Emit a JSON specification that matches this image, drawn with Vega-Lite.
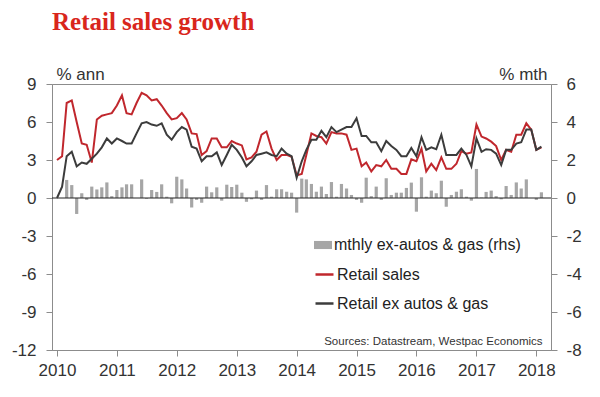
{
"$schema": "https://vega.github.io/schema/vega-lite/v6.json",
"width": 499, "height": 266,
"autosize": "none",
"padding": {"left": 52, "top": 84, "right": 49, "bottom": 47},
"background": "white",
"title": {"text": "Retail sales growth", "anchor": "start", "frame": "group", "font": "Liberation Serif", "fontSize": 25, "fontWeight": "bold", "color": "#d9261c", "offset": 30},
"config": {
  "view": {"stroke": "#8c8c8c", "strokeWidth": 1},
  "axis": {"domainColor": "#8c8c8c", "tickColor": "#8c8c8c", "labelFont": "Liberation Sans", "labelColor": "#333333", "labelFontSize": 17, "titleFont": "Liberation Sans", "titleFontSize": 17, "titleFontWeight": "normal", "titleColor": "#333333", "grid": false, "labelOverlap": false}
},
"data": {"values": [
{"date":"2010-01-01","r":3.0,"x":0.0,"m":0.0},
{"date":"2010-02-01","r":3.3,"x":0.9,"m":0.0},
{"date":"2010-03-01","r":7.5,"x":3.3,"m":0.95},
{"date":"2010-04-01","r":7.7,"x":3.65,"m":0.68},
{"date":"2010-05-01","r":6.0,"x":2.5,"m":-0.84},
{"date":"2010-06-01","r":4.3,"x":2.8,"m":0.25},
{"date":"2010-07-01","r":4.2,"x":2.7,"m":-0.1},
{"date":"2010-08-01","r":2.8,"x":3.1,"m":0.6},
{"date":"2010-09-01","r":6.2,"x":3.5,"m":0.45},
{"date":"2010-10-01","r":6.5,"x":4.0,"m":0.56},
{"date":"2010-11-01","r":6.6,"x":4.7,"m":0.82},
{"date":"2010-12-01","r":6.7,"x":4.3,"m":0.1},
{"date":"2011-01-01","r":7.3,"x":4.7,"m":0.42},
{"date":"2011-02-01","r":8.1,"x":4.5,"m":0.56},
{"date":"2011-03-01","r":6.7,"x":4.3,"m":0.72},
{"date":"2011-04-01","r":6.6,"x":4.3,"m":0.72},
{"date":"2011-05-01","r":7.5,"x":5.1,"m":0.0},
{"date":"2011-06-01","r":8.3,"x":5.9,"m":0.98},
{"date":"2011-07-01","r":8.1,"x":6.0,"m":-0.04},
{"date":"2011-08-01","r":7.7,"x":5.8,"m":0.42},
{"date":"2011-09-01","r":7.8,"x":5.7,"m":0.32},
{"date":"2011-10-01","r":7.3,"x":5.9,"m":0.72},
{"date":"2011-11-01","r":6.7,"x":5.0,"m":0.07},
{"date":"2011-12-01","r":6.2,"x":4.6,"m":-0.28},
{"date":"2012-01-01","r":6.3,"x":5.2,"m":1.12},
{"date":"2012-02-01","r":6.7,"x":5.6,"m":0.98},
{"date":"2012-03-01","r":6.2,"x":5.4,"m":0.5},
{"date":"2012-04-01","r":5.1,"x":4.05,"m":-0.5},
{"date":"2012-05-01","r":5.05,"x":3.9,"m":-0.1},
{"date":"2012-06-01","r":3.4,"x":2.9,"m":-0.25},
{"date":"2012-07-01","r":3.7,"x":3.3,"m":0.6},
{"date":"2012-08-01","r":4.7,"x":3.3,"m":0.3},
{"date":"2012-09-01","r":4.7,"x":3.6,"m":0.56},
{"date":"2012-10-01","r":4.0,"x":2.6,"m":-0.14},
{"date":"2012-11-01","r":4.0,"x":3.4,"m":0.7},
{"date":"2012-12-01","r":4.5,"x":4.2,"m":0.58},
{"date":"2013-01-01","r":4.3,"x":3.8,"m":0.7},
{"date":"2013-02-01","r":4.15,"x":3.2,"m":0.28},
{"date":"2013-03-01","r":3.05,"x":2.5,"m":-0.2},
{"date":"2013-04-01","r":3.2,"x":2.9,"m":-0.07},
{"date":"2013-05-01","r":3.65,"x":3.4,"m":0.39},
{"date":"2013-06-01","r":5.0,"x":3.5,"m":-0.1},
{"date":"2013-07-01","r":5.25,"x":3.6,"m":0.68},
{"date":"2013-08-01","r":3.9,"x":3.4,"m":0.07},
{"date":"2013-09-01","r":3.0,"x":3.3,"m":0.46},
{"date":"2013-10-01","r":3.4,"x":3.9,"m":0.46},
{"date":"2013-11-01","r":3.4,"x":3.5,"m":0.33},
{"date":"2013-12-01","r":3.25,"x":3.3,"m":0.28},
{"date":"2014-01-01","r":1.8,"x":1.6,"m":-0.77},
{"date":"2014-02-01","r":1.9,"x":2.9,"m":1.02},
{"date":"2014-03-01","r":3.4,"x":3.8,"m":0.98},
{"date":"2014-04-01","r":5.1,"x":4.6,"m":0.74},
{"date":"2014-05-01","r":4.9,"x":4.6,"m":0.33},
{"date":"2014-06-01","r":4.8,"x":5.3,"m":0.6},
{"date":"2014-07-01","r":4.3,"x":4.8,"m":0.21},
{"date":"2014-08-01","r":5.2,"x":5.6,"m":0.84},
{"date":"2014-09-01","r":5.1,"x":5.2,"m":0.07},
{"date":"2014-10-01","r":5.1,"x":5.4,"m":0.74},
{"date":"2014-11-01","r":5.0,"x":5.6,"m":0.5},
{"date":"2014-12-01","r":3.8,"x":5.6,"m":0.16},
{"date":"2015-01-01","r":3.9,"x":6.3,"m":-0.1},
{"date":"2015-02-01","r":2.5,"x":4.9,"m":-0.25},
{"date":"2015-03-01","r":2.8,"x":4.9,"m":1.07},
{"date":"2015-04-01","r":2.1,"x":4.4,"m":0.1},
{"date":"2015-05-01","r":2.6,"x":4.4,"m":0.6},
{"date":"2015-06-01","r":2.5,"x":3.7,"m":-0.1},
{"date":"2015-07-01","r":3.0,"x":4.5,"m":1.04},
{"date":"2015-08-01","r":2.3,"x":4.1,"m":0.16},
{"date":"2015-09-01","r":2.3,"x":3.8,"m":0.28},
{"date":"2015-10-01","r":1.9,"x":3.3,"m":0.28},
{"date":"2015-11-01","r":1.9,"x":3.3,"m":0.53},
{"date":"2015-12-01","r":3.05,"x":3.95,"m":0.81},
{"date":"2016-01-01","r":2.9,"x":3.3,"m":-0.72},
{"date":"2016-02-01","r":3.9,"x":4.8,"m":1.09},
{"date":"2016-03-01","r":2.1,"x":3.8,"m":0.07},
{"date":"2016-04-01","r":2.7,"x":4.0,"m":0.39},
{"date":"2016-05-01","r":2.2,"x":3.85,"m":0.25},
{"date":"2016-06-01","r":3.2,"x":5.0,"m":0.91},
{"date":"2016-07-01","r":2.3,"x":3.4,"m":-0.46},
{"date":"2016-08-01","r":2.3,"x":3.4,"m":0.16},
{"date":"2016-09-01","r":2.7,"x":3.4,"m":0.33},
{"date":"2016-10-01","r":3.7,"x":3.9,"m":0.46},
{"date":"2016-11-01","r":3.5,"x":3.4,"m":0.07},
{"date":"2016-12-01","r":3.6,"x":2.5,"m":-0.14},
{"date":"2017-01-01","r":5.8,"x":4.7,"m":1.53},
{"date":"2017-02-01","r":4.85,"x":3.65,"m":0.02},
{"date":"2017-03-01","r":4.7,"x":3.85,"m":0.32},
{"date":"2017-04-01","r":4.45,"x":3.8,"m":0.39},
{"date":"2017-05-01","r":4.1,"x":3.5,"m":0.1},
{"date":"2017-06-01","r":3.0,"x":2.6,"m":-0.07},
{"date":"2017-07-01","r":3.8,"x":3.8,"m":0.63},
{"date":"2017-08-01","r":3.65,"x":3.8,"m":0.16},
{"date":"2017-09-01","r":5.0,"x":4.3,"m":0.82},
{"date":"2017-10-01","r":5.0,"x":4.4,"m":0.5},
{"date":"2017-11-01","r":5.9,"x":5.4,"m":0.98},
{"date":"2017-12-01","r":5.4,"x":5.4,"m":0.0},
{"date":"2018-01-01","r":3.8,"x":3.8,"m":-0.1},
{"date":"2018-02-01","r":4.0,"x":4.05,"m":0.3}
]},
"layer": [
  {
    "mark": {"type": "bar", "width": 3.2},
    "encoding": {
      "x": {"field": "date", "type": "temporal", "title": null,
        "scale": {"type": "utc", "domain": [{"year": 2010, "month": 1, "date": 1, "utc": true}, {"year": 2018, "month": 3, "date": 1, "utc": true}]},
        "axis": {"values": [{"year": 2010, "utc": true}, {"year": 2011, "utc": true}, {"year": 2012, "utc": true}, {"year": 2013, "utc": true}, {"year": 2014, "utc": true}, {"year": 2015, "utc": true}, {"year": 2016, "utc": true}, {"year": 2017, "utc": true}, {"year": 2018, "utc": true}],
          "format": "%Y", "tickSize": 6, "labelPadding": 6, "labelFlush": false, "labelOverlap": false}},
      "y": {"field": "m", "type": "quantitative", "title": "% mth",
        "scale": {"domain": [-8, 6], "nice": false},
        "axis": {"orient": "right", "values": [-8, -6, -4, -2, 0, 2, 4, 6], "labelExpr": "datum.value < 0 ? '-' + abs(datum.value) : '' + datum.value", "titleAngle": 0, "titleAlign": "right", "titleBaseline": "alphabetic", "titleX": -4, "titleY": -5, "tickSize": 6, "labelPadding": 9}},
      "fill": {"datum": "mthly ex-autos & gas (rhs)", "scale": {"range": ["#a6a6a6"]},
        "legend": {"orient": "none", "legendX": 262, "legendY": 152, "title": null, "symbolType": "M-1,-0.45H1V0.45H-1Z", "symbolSize": 324, "symbolStrokeWidth": 0, "labelFontSize": 16, "labelFont": "Liberation Sans", "labelColor": "#222222", "labelOffset": 2, "labelLimit": 400, "padding": 0}}
    }
  },
  {
    "data": {"values": [{"v": 0}]},
    "mark": {"type": "rule", "stroke": "#222222", "strokeWidth": 1.2},
    "encoding": {
      "y": {"field": "v", "type": "quantitative", "scale": {"domain": [-12, 9], "nice": false}, "axis": null}
    }
  },
  {
    "mark": {"type": "line", "strokeWidth": 2},
    "encoding": {
      "x": {"field": "date", "type": "temporal", "title": null},
      "y": {"field": "r", "type": "quantitative", "title": "% ann",
        "scale": {"domain": [-12, 9], "nice": false},
        "axis": {"orient": "left", "values": [-12, -9, -6, -3, 0, 3, 6, 9], "labelExpr": "datum.value < 0 ? '-' + abs(datum.value) : '' + datum.value", "titleAngle": 0, "titleAlign": "left", "titleBaseline": "alphabetic", "titleX": 4, "titleY": -5, "tickSize": 6, "labelPadding": 10, "labelOverlap": false}},
      "stroke": {"datum": "Retail sales", "scale": {"domain": ["Retail sales", "Retail ex autos & gas"], "range": ["#c0272d", "#3c3c3c"]},
        "legend": {"orient": "none", "legendX": 262, "legendY": 180, "title": null, "symbolType": "stroke", "symbolSize": 324, "symbolStrokeWidth": 2.5, "labelFontSize": 16, "labelFont": "Liberation Sans", "labelColor": "#222222", "labelOffset": 2, "labelLimit": 400, "rowPadding": 10, "padding": 0}}
    }
  },
  {
    "mark": {"type": "line", "strokeWidth": 2},
    "encoding": {
      "x": {"field": "date", "type": "temporal", "title": null},
      "y": {"field": "x", "type": "quantitative", "scale": {"domain": [-12, 9], "nice": false}, "axis": null},
      "stroke": {"datum": "Retail ex autos & gas"}
    }
  },
  {
    "data": {"values": [{"t": "Sources: Datastream, Westpac Economics", "d": "2018-02-08", "v": -11.35}]},
    "mark": {"type": "text", "align": "right", "baseline": "middle", "font": "Liberation Sans", "fontSize": 11.5, "fill": "#333333"},
    "encoding": {
      "x": {"field": "d", "type": "temporal", "title": null},
      "y": {"field": "v", "type": "quantitative", "scale": {"domain": [-12, 9], "nice": false}, "axis": null},
      "text": {"field": "t"}
    }
  }
],
"resolve": {"scale": {"y": "independent"}}
}
